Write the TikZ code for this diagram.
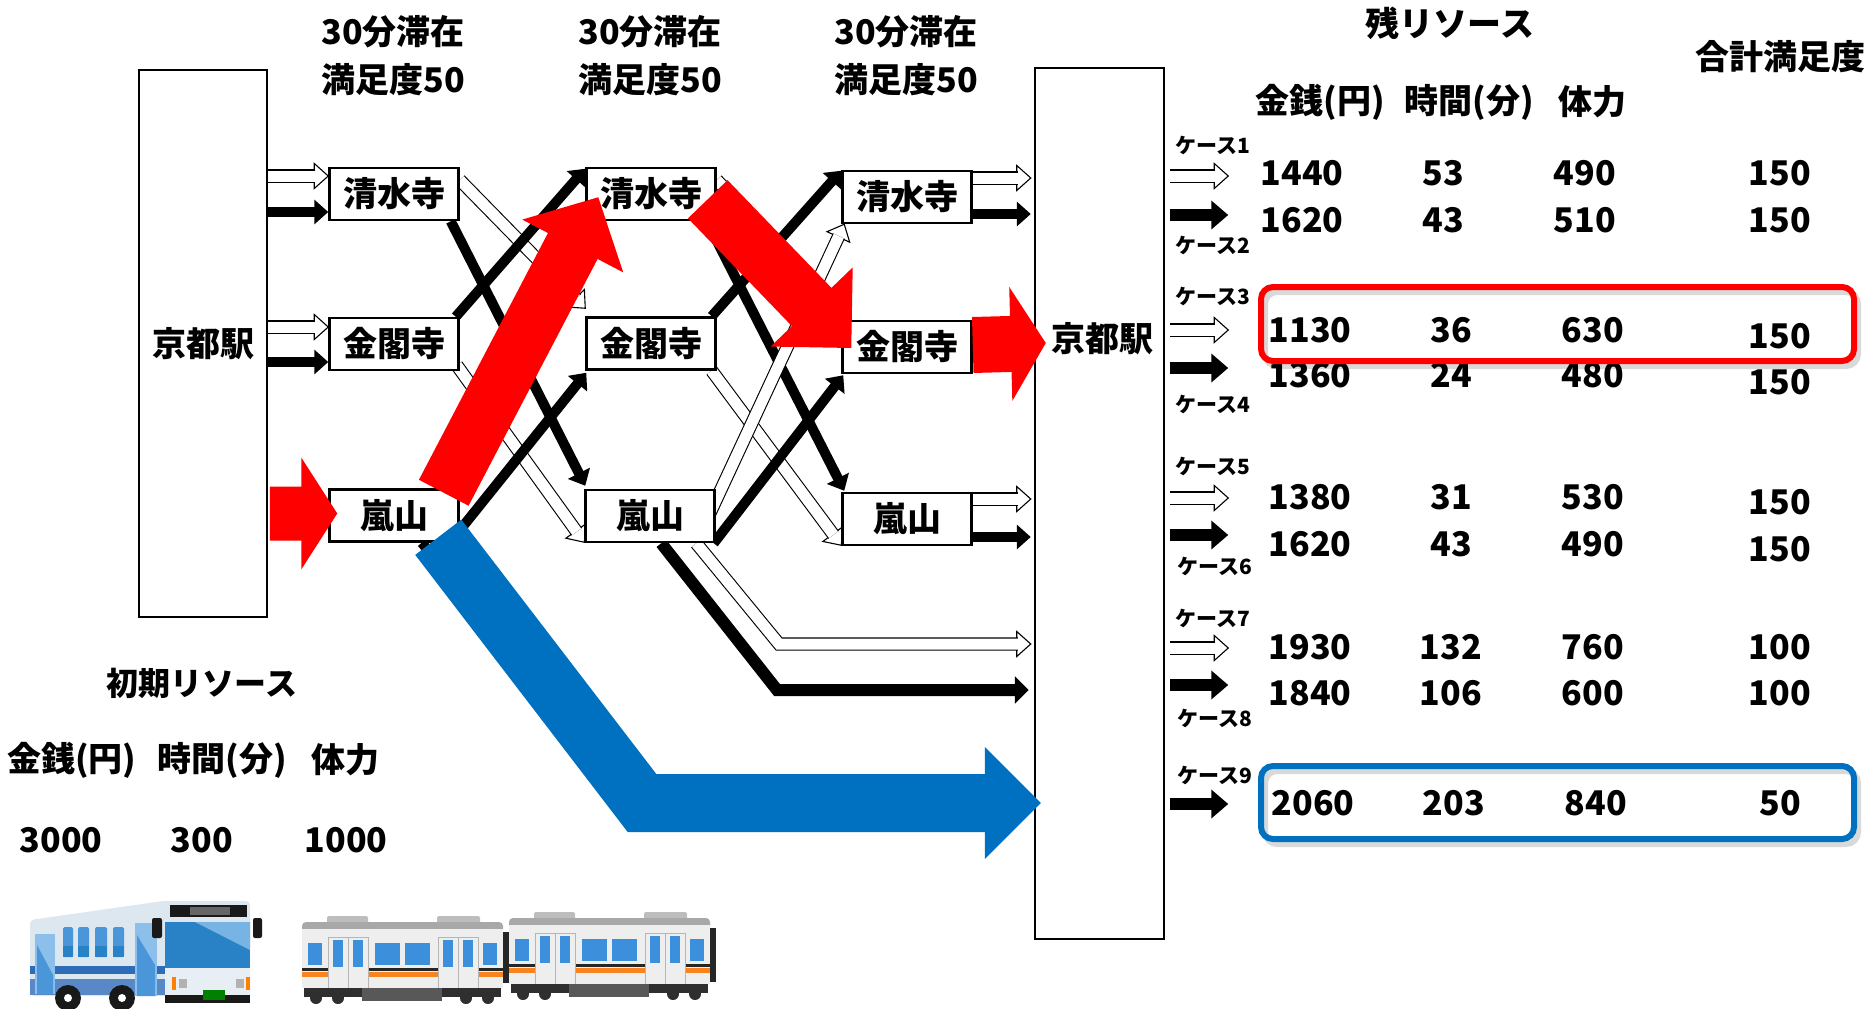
\documentclass[tikz,border=0pt]{standalone}
\usepackage{fontspec}
\setmainfont{Noto Sans CJK JP}
\usetikzlibrary{calc,arrows.meta}
\pgfdeclarelayer{bg}
\pgfdeclarelayer{fg}
\pgfsetlayers{bg,main,fg}

\definecolor{arrowred}{RGB}{255,0,0}
\definecolor{arrowblue}{RGB}{0,112,192}
\definecolor{roofgray}{HTML}{A8A8A8}
\definecolor{roofunit}{HTML}{BDBDBD}
\definecolor{carbody}{HTML}{EEEEEE}
\definecolor{doorline}{HTML}{B5B5B5}
\definecolor{stripeorange}{HTML}{F7841E}
\definecolor{winblue}{HTML}{3C8FDA}
\definecolor{under}{HTML}{2F2F2F}
\definecolor{busbody}{HTML}{DCE7EF}
\definecolor{busblue}{HTML}{2F6CB8}
\definecolor{buslight}{HTML}{8CC0EA}
\definecolor{buswin}{HTML}{4A96D8}
\definecolor{busshield}{HTML}{2A82C6}

\newcommand\fbig{\fontsize{34}{40}\selectfont\bfseries}
\newcommand\fmid{\fontsize{32}{38}\selectfont\bfseries}
\newcommand\fsmall{\fontsize{21}{24}\selectfont\bfseries}

% wide filled arrow: colour, tail, tip, shaft half width, head half width, head length
\newcommand\fatarrow[6]{%
  \path #2 coordinate (fa-a);
  \path #3 coordinate (fa-b);
  \path ($(fa-b)!#6!(fa-a)$) coordinate (fa-h);
  \fill[#1] ($(fa-a)!#4!90:(fa-b)$) -- ($(fa-h)!#4!90:(fa-b)$) -- ($(fa-h)!#5!90:(fa-b)$)
    -- (fa-b) -- ($(fa-h)!#5!-90:(fa-b)$) -- ($(fa-h)!#4!-90:(fa-b)$) -- ($(fa-a)!#4!-90:(fa-b)$) -- cycle;}

% hollow outlined arrow: leading path, start of last segment, tip
\newcommand\hollowseg[3]{%
  \path #2 coordinate (ho-a);
  \path #3 coordinate (ho-b);
  \path ($(ho-b)!14pt!(ho-a)$) coordinate (ho-h);
  \path ($(ho-b)!13pt!(ho-a)$) coordinate (ho-s);
  \filldraw[hollowhead] (ho-b) -- ($(ho-h)!12.5pt!90:(ho-b)$) -- ($(ho-h)!12.5pt!-90:(ho-b)$) -- cycle;
  \draw[hollowshaft] #1 (ho-a) -- (ho-s);}

% one line of the result table
\newcommand\tablerow[8]{%
  \node[lbl] (m#1) at ({1310+(#4)},#2) {#5};
  \node[lbl] (t#1) at ({1451+(#4)},#2) {#6};
  \node[lbl] (h#1) at ({1593+(#4)},#2) {#7};
  \node[lbl] (s#1) at (1780,#3) {#8};}

% one railway car, origin at the top left of its roof
\newcommand\traincar[2]{%
\begin{scope}[shift={(#1,#2)}]
  \fill[roofunit, rounded corners=2pt] (25,-6) rectangle (66,2);
  \fill[roofunit, rounded corners=2pt] (135,-6) rectangle (178,2);
  \fill[roofgray, rounded corners=4pt] (0,0) rectangle (201,12);
  \fill[carbody] (0,7) rectangle (201,66);
  \fill[black!85] (0,46) rectangle (201,48.5);
  \fill[stripeorange] (0,49.5) rectangle (201,55);
  \foreach \dx in {26,136} {
    \filldraw[fill=carbody, draw=doorline, line width=0.8pt] (\dx,15) rectangle ++(40,51);
    \draw[doorline, line width=0.8pt] (\dx+20,15) -- (\dx+20,66);
    \fill[winblue] (\dx+5,18) rectangle ++(10,27);
    \fill[winblue] (\dx+25,18) rectangle ++(10,27);
  }
  \foreach \a/\b in {6/20,73/98,103/128,181/195} \fill[winblue] (\a,21) rectangle (\b,43);
  \fill[under] (2,66) rectangle (199,75);
  \fill[under!80] (60,66) rectangle (140,79);
  \foreach \wx in {14,36,164,186} \fill[under] (\wx,76) circle (6);
\end{scope}}

\begin{document}
\begin{tikzpicture}[x=1pt,y=-1pt,
  place/.style={draw=black, line width=2.5pt, fill=white, minimum width=129pt,
    minimum height=52pt, inner sep=0pt, font=\fbig},
  station/.style={draw=black, line width=2.5pt, fill=white, minimum width=128pt,
    inner sep=0pt, font=\fbig},
  lbl/.style={inner sep=0pt, font=\fbig},
  caselbl/.style={inner sep=0pt, font=\fsmall},
  blk/.style={draw=black, line width=10pt, -{Triangle[length=14pt,width=24pt]}},
  blkcase/.style={draw=black, line width=12pt, -{Triangle[length=17pt,width=28pt]}},
  hollowshaft/.style={draw=black, line width=1.1pt, double=white, double distance=11pt},
  hollowhead/.style={draw=black, line width=1.1pt, fill=white, line join=miter},
  frame/.style={line width=6pt, rounded corners=12pt},
]
\useasboundingbox (0,0) rectangle (1874,1009);

% stations and sights
\node[station, minimum height=547pt] (st0) at (203,343.5) {京都駅};
\node[station, minimum height=871pt, minimum width=129pt] (st1) at (1099.5,503.5) {};
\node[lbl] (st1t) at (1102,339) {京都駅};

\node[place] (a1) at (394,194) {清水寺};
\node[place] (b1) at (394,344) {金閣寺};
\node[place] (c1) at (394,515.5) {嵐山};
\node[place] (a2) at (651,194) {清水寺};
\node[place] (b2) at (651,343.5) {金閣寺};
\node[place] (c2) at (650,516) {嵐山};
\node[place] (a3) at (907,197) {清水寺};
\node[place] (b3) at (907,347) {金閣寺};
\node[place] (c3) at (907,519) {嵐山};

\coordinate (bend7) at (779,644);
\coordinate (bend8) at (777,690);
\coordinate (bend9) at (642,803);

% column headings
\foreach \n/\x in {1/393,2/650,3/906} {
  \node[lbl] (stay\n) at (\x,32) {30分滞在};
  \node[lbl] (sat\n) at (\x,80) {満足度50};
}

% result table
\node[lbl] (rest) at (1450,23) {残リソース};
\node[lbl] (total) at (1780,57) {合計満足度};
\node[lbl] (hmoney) at (1320,102) {金銭(円)};
\node[lbl] (htime) at (1469,102) {時間(分)};
\node[lbl] (hpower) at (1592,102) {体力};

\tablerow{1}{173}{173}{-8}{1440}{53}{490}{150}
\tablerow{2}{220}{220}{-8}{1620}{43}{510}{150}
\tablerow{3}{330}{336}{0}{1130}{36}{630}{150}
\tablerow{4}{375}{382}{0}{1360}{24}{480}{150}
\tablerow{5}{497}{502}{0}{1380}{31}{530}{150}
\tablerow{6}{544}{549}{0}{1620}{43}{490}{150}
\tablerow{7}{647}{647}{0}{1930}{132}{760}{100}
\tablerow{8}{693}{693}{0}{1840}{106}{600}{100}
\tablerow{9}{803}{803}{3}{2060}{203}{840}{50}

\node[caselbl] (k1) at (1213,145) {ケース1};
\node[caselbl] (k2) at (1213,245) {ケース2};
\node[caselbl] (k3) at (1213,296) {ケース3};
\node[caselbl] (k4) at (1213,404) {ケース4};
\node[caselbl] (k5) at (1213,466) {ケース5};
\node[caselbl] (k6) at (1215,566) {ケース6};
\node[caselbl] (k7) at (1213,618) {ケース7};
\node[caselbl] (k8) at (1215,718) {ケース8};
\node[caselbl] (k9) at (1215,775) {ケース9};

% highlighted cases
\draw[frame, black, opacity=0.15] (1265,292) rectangle (1858,366);
\draw[frame, arrowred] (1261,287) rectangle (1854,361);
\draw[frame, black, opacity=0.15] (1265,771) rectangle (1858,844);
\draw[frame, arrowblue] (1261,766) rectangle (1854,839);

% initial resources
\node[inner sep=0pt, font=\fmid] (init) at (202,683) {初期リソース};
\node[lbl] (imoney) at (72,760) {金銭(円)};
\node[lbl] (itime) at (222,760) {時間(分)};
\node[lbl] (ipower) at (345,760) {体力};
\node[lbl] (iv1) at (61,840) {3000};
\node[lbl] (iv2) at (202,840) {300};
\node[lbl] (iv3) at (346,840) {1000};

\begin{pgfonlayer}{bg}
  % station to first sight
  \hollowseg{}{($(st0.east|-a1)+(0,-18)$)}{($(a1.west)+(0,-18)$)}
  \draw[blk] ($(st0.east|-a1)+(0,18)$) -- ($(a1.west)+(0,18)$);
  \hollowseg{}{($(st0.east|-b1)+(0,-17)$)}{($(b1.west)+(0,-17)$)}
  \draw[blk] ($(st0.east|-b1)+(0,18)$) -- ($(b1.west)+(0,18)$);
  % first to second sight
  \draw[blk] ($(a1.south east)+(-9,0)$) -- ($(c2.north west)+(1,-3)$);
  \hollowseg{}{($(a1.east)+(0,-14)$)}{($(b2.north west)+(0,-8)$)}
  \draw[blk] ($(b1.north east)+(-4,0)$) -- ($(a2.north west)+(0,2)$);
  \hollowseg{}{($(b1.south east)+(-3,-6)$)}{($(c2.south west)+(0,-1)$)}
  \draw[blk] ($(c1.south east)+(-10,0)$) -- ($(b2.south west)+(1,2)$);
  \draw[black, line width=10pt] ($(c1.south east)+(-38,0)$) -- (bend9);
  % second to third sight
  \hollowseg{}{($(a2.east)+(0,-14)$)}{($(b3.north west)+(0,-8)$)}
  \draw[blk] ($(a2.south east)+(-10,0)$) -- ($(c3.north west)+(3,-1)$);
  \draw[blk] ($(b2.north east)+(-5,0)$) -- ($(a3.north west)+(0,1)$);
  \hollowseg{}{($(b2.south east)+(-5,0)$)}{($(c3.south west)+(0,-1)$)}
  \hollowseg{}{($(c2.east)+(-9,4)$)}{($(a3.south west)+(3,0)$)}
  \draw[blk] ($(c2.south east)+(-2,0)$) -- ($(b3.south west)+(2,1)$);
  % second sight straight back to the station
  \draw[blk, line width=12pt, line join=miter, -{Triangle[length=14pt,width=27pt]}]
    ($(c2.south west)+(77,0)$) -- (bend8) -- ($(st1.west|-bend8)+(-5,0)$);
  \hollowseg{($(c2.south west)+(112,0)$) --}{(bend7)}{($(st1.west|-bend7)+(-3,0)$)}
  % third sight to the station
  \hollowseg{}{($(a3.east)+(0,-19)$)}{($(st1.west|-a3)+(-3,-19)$)}
  \draw[blk] ($(a3.east)+(0,17)$) -- ($(st1.west|-a3)+(-3,17)$);
  \hollowseg{}{($(c3.east)+(0,-20)$)}{($(st1.west|-c3)+(-3,-20)$)}
  \draw[blk] ($(c3.east)+(0,18)$) -- ($(st1.west|-c3)+(-3,18)$);
  % station to the cases
  \hollowseg{}{($(st1.east|-m1)+(5,3)$)}{($(st1.east|-m1)+(63,3)$)}
  \draw[blkcase] ($(st1.east|-m2)+(5,-5)$) -- ++(58,0);
  \hollowseg{}{($(st1.east|-m3)+(5,0)$)}{($(st1.east|-m3)+(63,0)$)}
  \draw[blkcase] ($(st1.east|-m4)+(5,-7)$) -- ++(58,0);
  \hollowseg{}{($(st1.east|-m5)+(5,1)$)}{($(st1.east|-m5)+(63,1)$)}
  \draw[blkcase] ($(st1.east|-m6)+(5,-9)$) -- ++(58,0);
  \hollowseg{}{($(st1.east|-m7)+(5,1)$)}{($(st1.east|-m7)+(63,1)$)}
  \draw[blkcase] ($(st1.east|-m8)+(5,-8)$) -- ++(58,0);
  \draw[blkcase] ($(st1.east|-m9)+(5,1)$) -- ++(58,0);
\end{pgfonlayer}

\begin{pgfonlayer}{fg}
  % best route in red
  \fatarrow{arrowred}{($(st0.east|-c1)+(1.5,-2)$)}{($(c1.west)+(9,-2)$)}{27pt}{56pt}{36pt}
  \fatarrow{arrowred}{($(c1.north east)+(-16,4.5)$)}{($(a2.south west)+(13,-24)$)}{28pt}{57pt}{55pt}
  \fatarrow{arrowred}{($(a2.south east)+(-9,-22)$)}{($(b3.west)+(10,1)$)}{27.5pt}{57pt}{57pt}
  \fatarrow{arrowred}{($(b3.east)+(0,-2)$)}{($(st1.west|-b3.east)+(12,-4)$)}{28pt}{57pt}{35pt}
  % single sight route in blue
  \draw[arrowblue, line width=58pt, line join=miter]
    ($(c1.south east)+(-21.5,-5.5)$) -- (bend9) -- ($(st1.west|-bend9)+(-49,0)$);
  \fill[arrowblue] ($(st1.west|-bend9)+(-49,-56)$) -- ($(st1.west|-bend9)+(7,0)$)
    -- ($(st1.west|-bend9)+(-49,56)$) -- cycle;
\end{pgfonlayer}

% bus
\fill[busbody, rounded corners=4pt] (30,920) -- (163,901) -- (250,901) -- (250,996) -- (30,996) -- cycle;
\fill[busblue!80] (30,979) rectangle (165,995);
\fill[busblue] (30,966) rectangle (165,974);
\foreach \a/\b in {63/73,78/89,95/107,113/124} {
  \fill[buswin, rounded corners=1.5pt] (\a,927) rectangle (\b,957);
  \fill[busshield] (\a,946) rectangle (\b,957);
}
\fill[buslight] (35,934) rectangle (55,994);
\fill[buswin] (37,945) -- (53,975) -- (53,994) -- (37,994) -- cycle;
\fill[buslight] (135,923) rectangle (157,996);
\fill[buswin] (137,935) -- (155,965) -- (155,996) -- (137,996) -- cycle;
\fill[busshield] (165,922) rectangle (250,968);
\fill[buslight!80!busshield] (195,922) -- (250,922) -- (250,950) -- cycle;
\fill[black!90] (170,905) rectangle (247,917);
\fill[black!60] (190,907) rectangle (230,915);
\fill[black!90, rounded corners=2pt] (152,918) rectangle (162,938);
\fill[black!90, rounded corners=2pt] (253,918) rectangle (262,938);
\fill[busbody!70!white] (165,968) rectangle (250,995);
\fill[orange] (172,977) rectangle (176,990);
\fill[orange] (246,977) rectangle (250,990);
\fill[black!30] (179,979) rectangle (187,988);
\fill[black!30] (236,979) rectangle (244,988);
\fill[black!90] (165,995) rectangle (250,1003);
\fill[green!50!black] (203,990) rectangle (225,1000);
\foreach \wx in {68,122} {
  \fill[black!90] (\wx,998) circle (13);
  \fill[white] (\wx,998) circle (4);
}

% train
\traincar{302}{922}
\traincar{509}{918}
\fill[black!85] (503,932) rectangle (509,983);
\fill[black!85] (710,928) rectangle (716,982);
\end{tikzpicture}
\end{document}
